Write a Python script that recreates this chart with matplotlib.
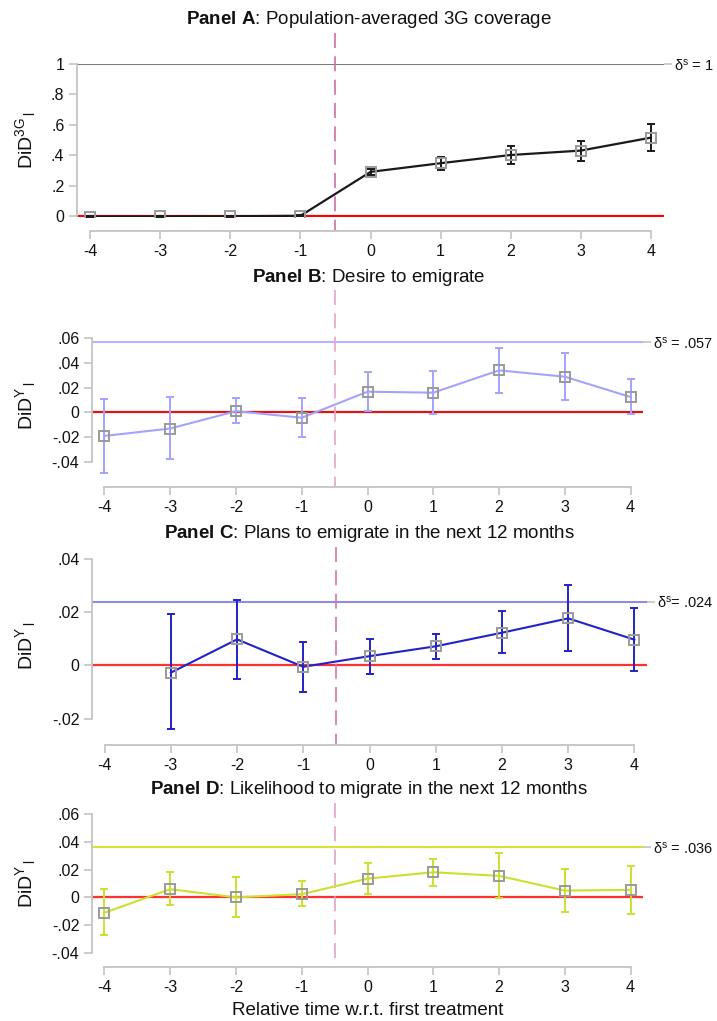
import matplotlib
matplotlib.use("Agg")
import matplotlib.pyplot as plt
import matplotlib.transforms as mtransforms
import numpy as np

plt.rcParams["font.family"] = ["Liberation Sans", "DejaVu Sans"]
plt.rcParams["mathtext.fontset"] = "custom"
plt.rcParams["mathtext.rm"] = "Liberation Sans"
plt.rcParams["mathtext.it"] = "Liberation Sans"
plt.rcParams["mathtext.bf"] = "Liberation Sans:bold"

# ---- data -------------------------------------------------------------
rel_time = [-4, -3, -2, -1, 0, 1, 2, 3, 4]
x_ticks = [-4, -3, -2, -1, 0, 1, 2, 3, 4]
treat_line = -0.5

a_est = [-0.004, -0.003, -0.002, 0.001, 0.290, 0.347, 0.401, 0.430, 0.515]
a_lo = [-0.006, -0.005, -0.004, -0.001, 0.272, 0.305, 0.343, 0.363, 0.428]
a_hi = [-0.002, -0.001, 0.000, 0.003, 0.308, 0.390, 0.458, 0.493, 0.603]
a_delta = 1
a_yticks = [0, 0.2, 0.4, 0.6, 0.8, 1]
a_ylabels = ["0", ".2", ".4", ".6", ".8", "1"]

b_est = [-0.0190, -0.0130, 0.0010, -0.0043, 0.0167, 0.0159, 0.0339, 0.0288, 0.0124]
b_lo = [-0.0486, -0.0374, -0.0089, -0.0200, 0.0010, -0.0010, 0.0159, 0.0099, -0.0016]
b_hi = [0.0110, 0.0123, 0.0113, 0.0120, 0.0325, 0.0333, 0.0522, 0.0476, 0.0266]
b_delta = 0.057
b_yticks = [-0.04, -0.02, 0, 0.02, 0.04, 0.06]
b_ylabels = ["-.04", "-.02", "0", ".02", ".04", ".06"]

c_time = [-3, -2, -1, 0, 1, 2, 3, 4]
c_est = [-0.0027, 0.0098, -0.0005, 0.0035, 0.0072, 0.0123, 0.0177, 0.0097]
c_lo = [-0.0240, -0.0050, -0.0098, -0.0031, 0.0025, 0.0048, 0.0056, -0.0021]
c_hi = [0.0195, 0.0245, 0.0087, 0.0100, 0.0119, 0.0204, 0.0303, 0.0215]
c_delta = 0.024
c_yticks = [-0.02, 0, 0.02, 0.04]
c_ylabels = ["-.02", "0", ".02", ".04"]

d_est = [-0.0110, 0.0059, 0.0000, 0.0023, 0.0135, 0.0181, 0.0155, 0.0049, 0.0054]
d_lo = [-0.0270, -0.0052, -0.0143, -0.0061, 0.0025, 0.0083, -0.0006, -0.0102, -0.0121]
d_hi = [0.0063, 0.0181, 0.0145, 0.0119, 0.0246, 0.0279, 0.0318, 0.0205, 0.0229]
d_delta = 0.036
d_yticks = [-0.04, -0.02, 0, 0.02, 0.04, 0.06]
d_ylabels = ["-.04", "-.02", "0", ".02", ".04", ".06"]

W, H = 717, 1021
fig = plt.figure(figsize=(W / 100, H / 100), dpi=100)

AXIS_GREY = "#c4c4c4"


def add_px_axes(left, right, top, bottom):
    return fig.add_axes([left / W, 1 - bottom / H, (right - left) / W, (bottom - top) / H])


def draw_panel(box, x, est, lo, hi, delta, delta_label, yticks, ylabels, ylim,
               color, delta_color, zero_color, dash_color, title, title_y,
               ylabel, vline_px, line_w=1.5, x_offset=13):
    left, right, top, bottom = box
    ax = add_px_axes(left, right, top, bottom)
    ax.set_xlim(-4.19, 4.19)
    ax.set_ylim(*ylim)

    est = np.asarray(est)
    lo = np.asarray(lo)
    hi = np.asarray(hi)

    ax.axhline(0, color=zero_color, lw=1.6, zorder=1)
    ax.axhline(delta, color=delta_color, lw=1.5, zorder=1)

    ax.errorbar(x, est, yerr=[est - lo, hi - est], fmt="none", ecolor=color,
                elinewidth=1.4, capsize=3, capthick=1.4, zorder=3)
    ax.plot(x, est, color=color, lw=line_w, zorder=4)
    ax.plot(x, est, ls="none", marker="s", ms=7, mfc="none", mec="#9a9a9a",
            mew=1.4, zorder=5)

    # treatment timing line, reaching from under the title down to the x axis
    trans = mtransforms.blended_transform_factory(ax.transData, fig.transFigure)
    ax.plot([treat_line, treat_line], [1 - vline_px[0] / H, 1 - vline_px[1] / H],
            transform=trans, color=dash_color, lw=1.2, dashes=(9, 5),
            clip_on=False, zorder=2)

    for s in ["top", "right"]:
        ax.spines[s].set_visible(False)
    ax.spines["left"].set_color(AXIS_GREY)
    ax.spines["left"].set_linewidth(1.3)
    ax.spines["left"].set_bounds(yticks[0], yticks[-1])
    ax.spines["bottom"].set_color(AXIS_GREY)
    ax.spines["bottom"].set_linewidth(1.3)
    ax.spines["bottom"].set_position(("outward", x_offset * 0.72))
    ax.spines["bottom"].set_bounds(x_ticks[0], x_ticks[-1])

    ax.set_xticks(x_ticks)
    ax.set_xticklabels([str(t) for t in x_ticks])
    ax.set_yticks(yticks)
    ax.set_yticklabels(ylabels)
    ax.tick_params(axis="both", colors=AXIS_GREY, labelcolor="#111111",
                   labelsize=11.5, length=6, width=1.2, pad=3)
    ax.set_ylabel(ylabel, fontsize=14, color="#111111")
    ax.yaxis.set_label_coords((38 - left) / (right - left), 0.5)

    ax2 = ax.twinx()
    ax2.set_ylim(*ylim)
    ax2.set_yticks([delta])
    ax2.set_yticklabels([delta_label])
    for s in ax2.spines.values():
        s.set_visible(False)
    ax2.tick_params(axis="y", colors=AXIS_GREY, labelcolor="#111111",
                    labelsize=10.5, length=6, width=1.2, pad=1.5)

    fig.text(369 / W, 1 - title_y / H, title, ha="center", va="center",
             fontsize=13.5, color="#111111")
    return ax


draw_panel((77, 664, 64, 217), rel_time, a_est, a_lo, a_hi, a_delta,
           r"δ$^s$ = 1", a_yticks, a_ylabels, (-0.007, 1.0),
           "#1a1a1a", "#7a7a7a", "#ff0000", "#cc6fa3",
           r"$\mathbf{Panel\ A}$: Population-averaged 3G coverage", 20,
           r"DiD$^{3G}{}_{\,l}$", (33, 231), line_w=1.6, x_offset=14)

draw_panel((92, 643, 338, 474.4), rel_time, b_est, b_lo, b_hi, b_delta,
           r"δ$^s$ = .057", b_yticks, b_ylabels, (-0.05, 0.06),
           "#a3a3ff", "#b4b4ff", "#dd1515", "#e8a3c8",
           r"$\mathbf{Panel\ B}$: Desire to emigrate", 277,
           r"DiD$^{Y}{}_{\,l}$", (290, 487), x_offset=13)

draw_panel((92, 647, 559, 732), c_time, c_est, c_lo, c_hi, c_delta,
           r"δ$^s$= .024", c_yticks, c_ylabels, (-0.025, 0.04),
           "#2222c8", "#8c8ce6", "#ff3030", "#d873a8",
           r"$\mathbf{Panel\ C}$: Plans to emigrate in the next 12 months", 533,
           r"DiD$^{Y}{}_{\,l}$", (547, 745), x_offset=13)

draw_panel((92, 643, 814, 953), rel_time, d_est, d_lo, d_hi, d_delta,
           r"δ$^s$ = .036", d_yticks, d_ylabels, (-0.04, 0.06),
           "#cde02c", "#d4e23a", "#ff3030", "#e3a3c8",
           r"$\mathbf{Panel\ D}$: Likelihood to migrate in the next 12 months", 790,
           r"DiD$^{Y}{}_{\,l}$", (803, 967), x_offset=14)

fig.text(368 / W, 1 - 1010 / H, "Relative time w.r.t. first treatment",
         ha="center", va="center", fontsize=13.5, color="#111111")

fig.savefig("out.png", dpi=100)
